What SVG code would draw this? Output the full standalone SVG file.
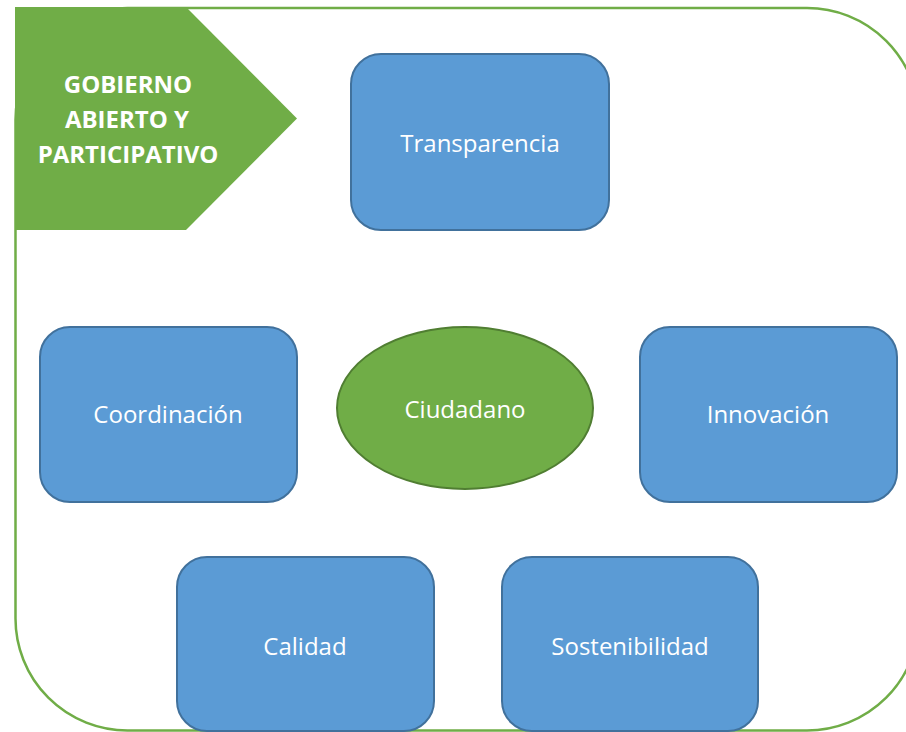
<svg xmlns="http://www.w3.org/2000/svg" width="906" height="732" viewBox="0 0 906 732">
<defs>
<style>
.box{fill:#5B9BD5;stroke:#41719C;stroke-width:2}
.oval{fill:#70AD47;stroke:#507E32;stroke-width:2}
.lbl{fill:#FFFFFF;font-family:"Open Sans","Noto Sans","Liberation Sans",sans-serif;font-size:24px;text-anchor:middle}
.hdr{fill:#FFFFFF;font-family:"Open Sans","Noto Sans","Liberation Sans",sans-serif;font-size:24px;font-weight:bold;text-anchor:middle}
</style>
</defs>
<rect width="906" height="732" fill="#FFFFFF"/>
<g id="frame">
<rect x="15.5" y="8" width="903.5" height="722.5" rx="112" ry="112" fill="none" stroke="#70AD47" stroke-width="2.5"/>
</g>
<g id="header">
<polygon points="15,7 186,7 297,118.5 186,230 15,230" fill="#70AD47"/>
<text class="hdr" x="128" y="93">GOBIERNO</text>
<text class="hdr" x="127" y="128">ABIERTO Y</text>
<text class="hdr" x="128" y="163">PARTICIPATIVO</text>
</g>
<g id="connectors"></g>
<g id="transparencia">
<rect class="box" x="351" y="54" width="258" height="176" rx="30" ry="30"/>
<text class="lbl" x="480" y="152">Transparencia</text>
</g>
<g id="coordinacion">
<rect class="box" x="40" y="327" width="257" height="175" rx="30" ry="30"/>
<text class="lbl" x="168" y="423">Coordinación</text>
</g>
<g id="ciudadano">
<ellipse class="oval" cx="465" cy="408" rx="128" ry="81"/>
<text class="lbl" x="465" y="418">Ciudadano</text>
</g>
<g id="innovacion">
<rect class="box" x="640" y="327" width="257" height="175" rx="30" ry="30"/>
<text class="lbl" x="768" y="423">Innovación</text>
</g>
<g id="calidad">
<rect class="box" x="177" y="557" width="257" height="174" rx="30" ry="30"/>
<text class="lbl" x="305" y="655">Calidad</text>
</g>
<g id="sostenibilidad">
<rect class="box" x="502" y="557" width="256" height="174" rx="30" ry="30"/>
<text class="lbl" x="630" y="655">Sostenibilidad</text>
</g>
</svg>
